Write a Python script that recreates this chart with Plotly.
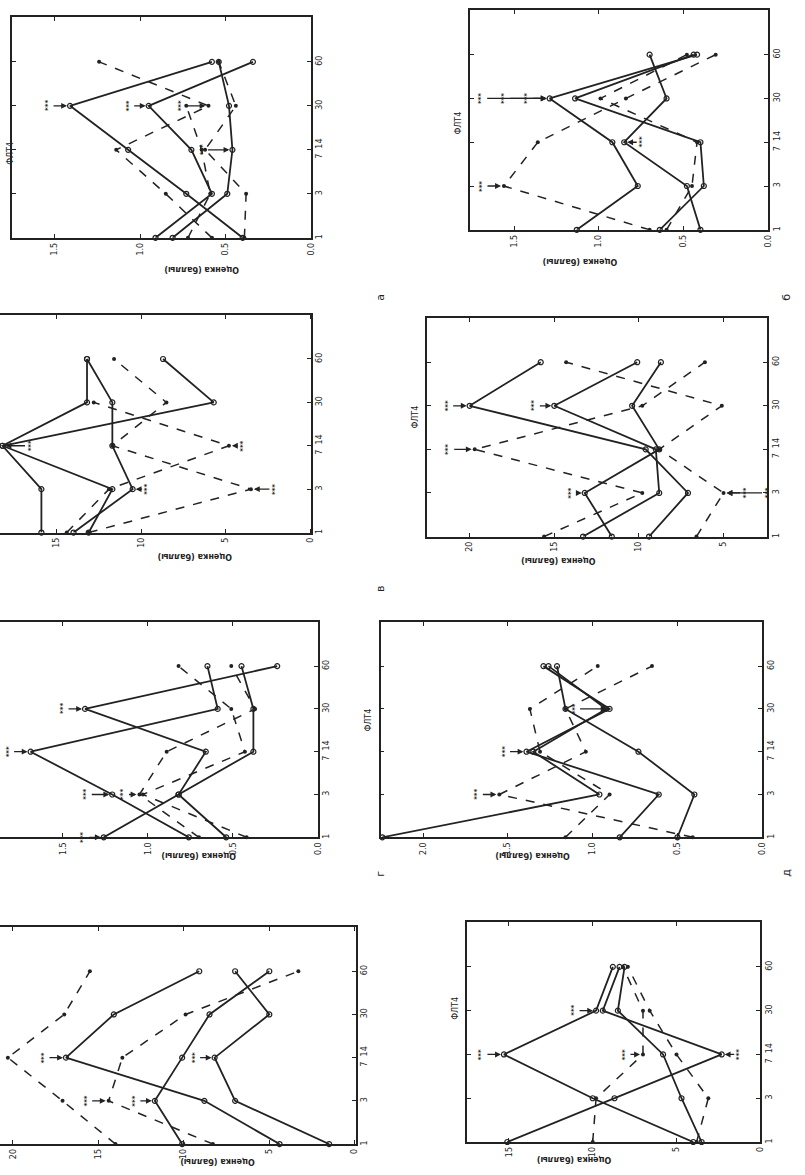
import plotly.graph_objects as go

# Categories along the (vertical) time axis, bottom to top
categories = [1, 2, 3, 4, 5]
category_labels = ["1", "3", "7  14", "30", "60"]

# ---- panel а ----
a_solid = [
    [0.40, 0.73, 1.07, 1.41, 0.58],
    [0.91, 0.58, 0.70, 0.95, 0.34],
    [0.81, 0.49, 0.46, 0.48, 0.54],
]
a_dashed = [
    [0.58, 0.85, 1.14, 0.60, 1.24],
    [0.39, 0.38, 0.62, 0.44, 0.54],
    [0.72, 0.59, 0.64, 0.73, None],
]
a_ticks = [1.5, 1.0, 0.5, 0.0]
a_ticktext = ["1.5", "1.0", "0.5", "0.0"]

# ---- panel б ----
b_solid = [
    [0.40, 0.48, 0.85, 0.60, 0.70],
    [1.13, 0.77, 0.92, 1.29, 0.42],
    [0.64, 0.38, 0.40, 1.14, 0.44],
]
b_dashed = [
    [0.70, 1.56, 1.36, 0.84, 0.31],
    [0.60, 0.45, 0.42, 0.99, 0.48],
]
b_ticks = [1.5, 1.0, 0.5, 0.0]
b_ticktext = ["1.5", "1.0", "0.5", "0.0"]

# ---- panel в ----
c_solid = [
    [15.9, 15.9, 18.2, 13.2, 13.2],
    [14.0, 10.5, 11.7, 11.7, 13.2],
    [13.1, 11.7, 18.2, 5.7, 8.7],
]
c_dashed = [
    [13.1, 3.5, 11.7, 8.5, 11.6],
    [14.4, 11.9, 4.8, 12.8, None],
]
c_ticks = [15, 10, 5, 0]
c_ticktext = ["15", "10", "5", "0"]

# ---- panel г ----
d_solid = [
    [9.4, 7.1, 9.6, 20.0, 15.8],
    [13.3, 8.8, 9.0, 15.0, 10.1],
    [11.6, 13.2, 8.8, 10.4, 8.7],
]
d_dashed = [
    [6.6, 5.0, 8.8, 5.1, 14.3],
    [15.6, 9.8, 19.7, 9.8, 6.1],
]
d_ticks = [20, 15, 10, 5]
d_ticktext = ["20", "15", "10", "5"]

# ---- panel д ----
e_solid = [
    [0.54, 0.82, 0.66, 1.37, 0.24],
    [0.76, 1.21, 1.69, 0.59, 0.65],
    [1.26, 0.82, 0.38, 0.38, 0.45],
]
e_dashed = [
    [0.42, 1.03, 0.43, 0.51, 0.82],
    [0.70, 1.05, 0.89, 0.37, 0.51],
]
e_ticks = [1.5, 1.0, 0.5, 0.0]
e_ticktext = ["1.5", "1.0", "0.5", "0.0"]

# ---- panel е ----
f_solid = [
    [0.84, 0.61, 1.39, 0.90, 1.29],
    [2.24, 0.96, 1.35, 0.92, 1.26],
    [0.50, 0.40, 0.73, 1.16, 1.21],
]
f_dashed = [
    [0.41, 1.55, 1.04, 1.16, 0.65],
    [1.16, 0.90, 1.31, 1.37, 0.97],
]
f_ticks = [2.0, 1.5, 1.0, 0.5, 0.0]
f_ticktext = ["2.0", "1.5", "1.0", "0.5", "0.0"]

# ---- panel ж ----
g_solid = [
    [4.4, 8.8, 16.9, 14.1, 9.1],
    [1.5, 7.0, 8.2, 5.0, 7.0],
    [10.1, 11.7, 10.1, 8.5, 5.0],
]
g_dashed = [
    [14.0, 17.1, 20.3, 17.0, 15.5],
    [8.3, 14.4, 13.6, 9.9, 3.3],
]
g_ticks = [20, 15, 10, 5, 0]
g_ticktext = ["20", "15", "10", "5", "0"]

# ---- panel з ----
h_solid = [
    [4.0, 10.0, 15.3, 9.8, 8.8],
    [15.1, 8.7, 2.3, 9.4, 8.4],
    [3.5, 4.7, 5.8, 8.5, 8.1],
]
h_dashed = [
    [10.0, 9.8, 7.0, 7.0, 8.2],
    [3.8, 3.1, 5.0, 6.6, 7.9],
]
h_ticks = [15, 10, 5, 0]
h_ticktext = ["15", "10", "5", "0"]

# Significance marks: (line kind, series index, category, arrow offset in px)
a_marks = [("s", 0, 4, -22), ("s", 1, 4, -20), ("s", 2, 3, -30), ("d", 0, 4, -28)]
b_marks = [("s", 1, 4, -22), ("s", 1, 4, -45), ("s", 1, 4, -68), ("d", 0, 2, -22), ("s", 0, 3, 18)]
c_marks = [("s", 0, 3, 28), ("s", 1, 2, 15), ("d", 1, 3, 14), ("d", 0, 2, 24)]
d_marks = [("s", 0, 4, -22), ("s", 1, 4, -20), ("d", 1, 3, -26), ("s", 2, 2, -14), ("d", 0, 2, 22), ("d", 0, 2, 44)]
e_marks = [("s", 1, 3, -22), ("s", 0, 4, -22), ("d", 1, 2, -16), ("s", 2, 1, -20), ("s", 1, 2, -26)]
f_marks = [("s", 0, 3, -22), ("d", 0, 2, -22), ("s", 0, 4, -35)]
g_marks = [("s", 0, 3, -22), ("d", 1, 2, -22), ("s", 2, 2, -20), ("s", 1, 3, -20)]
h_marks = [("s", 0, 3, -22), ("s", 0, 4, -22), ("s", 1, 3, 18), ("d", 0, 3, -18)]

AXIS_TITLE = "Оценка (баллы)"
PANEL_TITLE = "ФЛТ4"

W, H = 805, 1175
INK = "#222222"
FONT = "DejaVu Sans"

# Layout of each panel: frame box in px, value range (left, right), cut on the left?, side title
panels = [
    dict(box=(12, 17, 313, 238), rng=(1.75, 0.0), cut=False, title=False,
         solid=a_solid, dashed=a_dashed, ticks=a_ticks, ticktext=a_ticktext, marks=a_marks),
    dict(box=(473, 10, 773, 230), rng=(1.76, 0.0), cut=False, title=True,
         solid=b_solid, dashed=b_dashed, ticks=b_ticks, ticktext=b_ticktext, marks=b_marks),
    dict(box=(0, 315, 313, 533), rng=(18.35, -0.06), cut=True, title=False,
         solid=c_solid, dashed=c_dashed, ticks=c_ticks, ticktext=c_ticktext, marks=c_marks),
    dict(box=(430, 318, 772, 537), rng=(22.5, 2.42), cut=False, title=True,
         solid=d_solid, dashed=d_dashed, ticks=d_ticks, ticktext=d_ticktext, marks=d_marks),
    dict(box=(0, 623, 320, 838), rng=(1.87, 0.0), cut=True, title=False,
         solid=e_solid, dashed=e_dashed, ticks=e_ticks, ticktext=e_ticktext, marks=e_marks),
    dict(box=(383, 623, 767, 838), rng=(2.25, 0.0), cut=False, title=True,
         solid=f_solid, dashed=f_dashed, ticks=f_ticks, ticktext=f_ticktext, marks=f_marks),
    dict(box=(0, 928, 358, 1145), rng=(20.76, -0.06), cut=True, title=False,
         solid=g_solid, dashed=g_dashed, ticks=g_ticks, ticktext=g_ticktext, marks=g_marks),
    dict(box=(470, 923, 765, 1143), rng=(17.5, 0.0), cut=False, title=True,
         solid=h_solid, dashed=h_dashed, ticks=h_ticks, ticktext=h_ticktext, marks=h_marks),
]

fig = go.Figure()
annotations = []

for i, p in enumerate(panels, start=1):
    xa = "x" if i == 1 else f"x{i}"
    ya = "y" if i == 1 else f"y{i}"
    x0, y0, x1, y1 = p["box"]

    for vals in p["solid"]:
        fig.add_trace(go.Scatter(
            x=vals, y=categories, xaxis=xa, yaxis=ya, mode="lines+markers",
            line=dict(color=INK, width=1.8),
            marker=dict(symbol="circle-open", size=5, color=INK, line=dict(width=1.2)),
            cliponaxis=False, showlegend=False, connectgaps=False))
    for vals in p["dashed"]:
        fig.add_trace(go.Scatter(
            x=vals, y=categories, xaxis=xa, yaxis=ya, mode="lines+markers",
            line=dict(color=INK, width=1.5, dash="dash"),
            marker=dict(symbol="circle", size=4, color=INK),
            cliponaxis=False, showlegend=False, connectgaps=False))

    for kind, si, cat, ax in p["marks"]:
        series = p["solid"][si] if kind == "s" else p["dashed"][si]
        annotations.append(dict(
            x=series[cat - 1], y=cat, xref=xa, yref=ya, text="<b>***</b>", textangle=-90,
            showarrow=True, ax=ax, ay=0, arrowhead=2, arrowsize=0.9, arrowwidth=1.3,
            arrowcolor=INK, standoff=3, font=dict(size=7, color=INK, family=FONT)))

    dom_x = [x0 / W, x1 / W]
    dom_y = [1 - y1 / H, 1 - y0 / H]
    key = "" if i == 1 else str(i)
    fig.layout[f"xaxis{key}"] = dict(
        domain=dom_x, range=list(p["rng"]), anchor=ya,
        tickvals=p["ticks"], ticktext=p["ticktext"], tickangle=-90,
        ticks="inside", ticklen=4, tickcolor=INK, showgrid=False, zeroline=False,
        showline=True, linecolor=INK, linewidth=1.6, mirror="ticks",
        tickfont=dict(size=8, color=INK, family=FONT))
    fig.layout[f"yaxis{key}"] = dict(
        domain=dom_y, range=[1, 6.02], anchor=xa, side="right",
        tickvals=categories, ticktext=category_labels, tickangle=-90,
        ticks="inside", ticklen=4, tickcolor=INK, showgrid=False, zeroline=False,
        showline=True, linecolor=INK, linewidth=1.6,
        mirror=False if p["cut"] else "ticks",
        tickfont=dict(size=8, color=INK, family=FONT))

    # value-axis title, printed upside down under the ticks
    annotations.append(dict(
        x=((max(x0, 0) + x1) / 2) / W, y=1 - (y1 + 25) / H, xref="paper", yref="paper",
        text=f"<b>{AXIS_TITLE}</b>", textangle=180, showarrow=False,
        font=dict(size=8, color=INK, family=FONT)))
    if p["title"]:
        annotations.append(dict(
            x=(x0 - 12) / W, y=1 - ((y0 + y1) / 2 - 10) / H, xref="paper", yref="paper",
            text=PANEL_TITLE, textangle=-90, showarrow=False,
            font=dict(size=8, color=INK, family=FONT)))

# panel letters
for letter, (lx, ly) in zip(["а", "б", "в", "г", "д"],
                            [(383, 292), (800, 292), (383, 590), (383, 880), (800, 880)]):
    annotations.append(dict(
        x=lx / W, y=1 - ly / H, xref="paper", yref="paper", text=letter, textangle=-90,
        showarrow=False, font=dict(size=11, color=INK, family=FONT)))

# side title of the first panel sits at the page edge
annotations.append(dict(
    x=4 / W, y=1 - 140 / H, xref="paper", yref="paper", text=PANEL_TITLE, textangle=-90,
    showarrow=False, font=dict(size=8, color=INK, family=FONT)))

fig.update_layout(
    width=W, height=H, margin=dict(l=0, r=0, t=0, b=0),
    paper_bgcolor="white", plot_bgcolor="white",
    annotations=annotations, showlegend=False)

fig.write_html("out.html")
